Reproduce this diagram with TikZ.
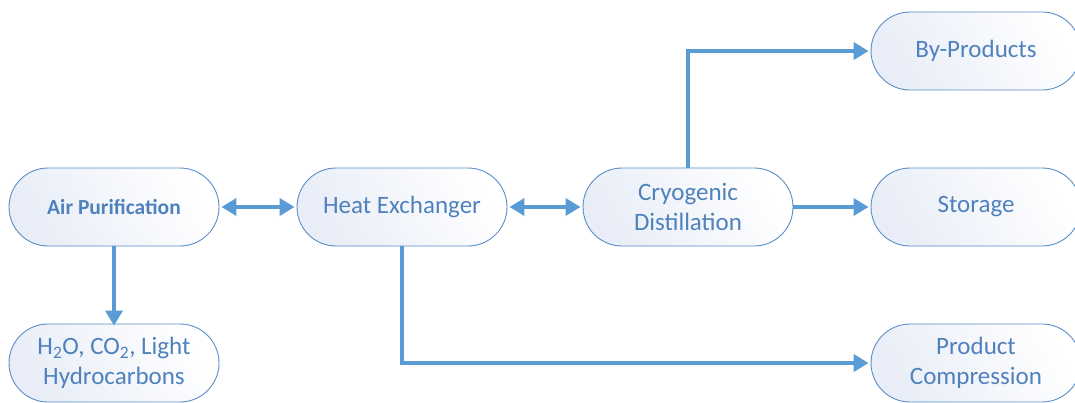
\documentclass[tikz,border=0pt]{standalone}
\usepackage{fontspec}
\setmainfont{Carlito}
\usetikzlibrary{shapes.misc,arrows.meta}
\definecolor{lineblue}{HTML}{5B9BD5}
\definecolor{edgeblue}{HTML}{5A8DC8}
\definecolor{textblue}{HTML}{4F81BD}
\definecolor{fillblue}{HTML}{E8EDF7}
\tikzset{
  box/.style={rounded rectangle, draw=edgeblue, line width=0.9pt,
    minimum width=210pt, minimum height=78pt, inner sep=0pt,
    left color=fillblue, right color=white, shading angle=120,
    text=textblue, align=center, font=\fontsize{25}{30}\selectfont},
  arr/.style={draw=lineblue, line width=4pt,
    arrows={-Triangle[length=15pt,width=17pt]}},
  darr/.style={draw=lineblue, line width=4pt,
    arrows={Triangle[length=15pt,width=17pt]-Triangle[length=15pt,width=17pt]}}
}
\begin{document}
\begin{tikzpicture}[x=1pt,y=-1pt]
\useasboundingbox (0,0) rectangle (1075,402);
\node[box, font=\fontsize{21.5}{26}\selectfont\bfseries] (air) at (114,207) {Air Purification};
\node[box] (heat) at (402,207) {Heat Exchanger};
\node[box] (cryo) at (688,207) {Cryogenic\\Distillation};
\node[box] (byp) at (976,51) {By-Products};
\node[box] (stor) at (976,207) {Storage};
\node[box] (prod) at (976,363) {Product\\Compression};
\node[box] (h2o) at (114,363) {H\textsubscript{2}O, CO\textsubscript{2}, Light\\Hydrocarbons};
\draw[darr] ([xshift=2pt]air.east) -- ([xshift=-2pt]heat.west);
\draw[darr] ([xshift=2pt]heat.east) -- ([xshift=-2pt]cryo.west);
\draw[arr] (cryo.east) -- ([xshift=-2pt]stor.west);
\draw[arr] (cryo.north) |- ([xshift=-2pt]byp.west);
\draw[arr] (heat.south) |- ([xshift=-2pt]prod.west);
\draw[arr] (air.south) -- ([yshift=-2pt]h2o.north);
\end{tikzpicture}
\end{document}
